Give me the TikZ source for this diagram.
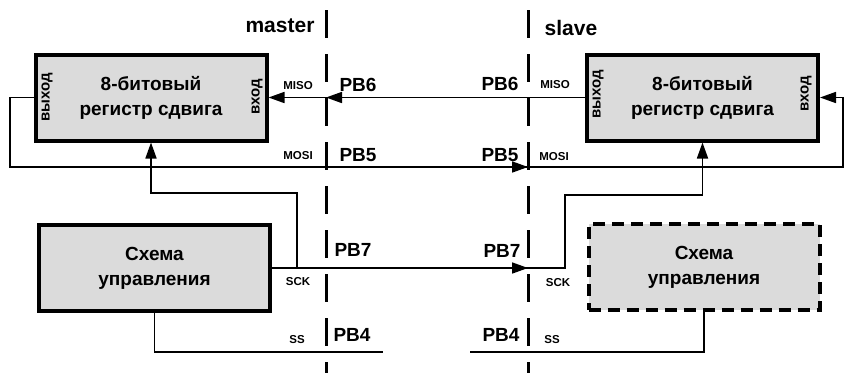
\documentclass[tikz,border=0pt]{standalone}
\usepackage{fontspec}
\setmainfont{Liberation Sans}
\usetikzlibrary{arrows.meta}
\tikzset{
  blk/.style={draw=black, line width=4pt, fill=black!14, minimum width=231pt, minimum height=86pt, inner sep=0pt, align=center, font=\fontsize{19}{25}\selectfont\bfseries},
  blkdash/.style={blk, dash pattern=on 12pt off 7pt},
  wire/.style={line width=1.7pt},
  arr/.style={wire, -{Triangle[length=16pt,width=11pt]}},
  divider/.style={line width=3pt, dash pattern=on 28pt off 16pt},
  pin/.style={font=\fontsize{19}{20}\selectfont\bfseries, inner sep=0pt},
  sig/.style={font=\fontsize{11.5}{12}\selectfont\bfseries, inner sep=0pt},
  side/.style={font=\fontsize{15}{16}\selectfont\bfseries, inner sep=0pt, rotate=90},
  ttl/.style={font=\fontsize{21}{22}\selectfont\bfseries, inner sep=0pt}
}
\begin{document}
\begin{tikzpicture}[x=1pt,y=-1pt]
\useasboundingbox (0,0) rectangle (846,373);
% dividers
\draw[divider] (326,10) -- (326,373);
\draw[divider] (528,10) -- (528,373);
% boxes
\node[blk] (mreg) at (151,97.5) {8-битовый\\регистр сдвига};
\node[blk] (sreg) at (702.5,97.5) {8-битовый\\регистр сдвига};
\node[blk] (mctrl) at (154.5,268) {Схема\\управления};
\node[blkdash] (sctrl) at (704,267) {Схема\\управления};
% side labels
\node[side] (mout) at (47,97) {выход};
\node[side] (min) at (257,97) {вход};
\node[side] (sout) at (598,94) {выход};
\node[side] (sin) at (806,94) {вход};
% titles
\node[ttl] (tmaster) at (280,26) {master};
\node[ttl] (tslave) at (571,28) {slave};
% coordinates
\coordinate (mmiso) at (326,97.5);
\coordinate (mL) at (10,167);
\coordinate (sR) at (843,167);
\coordinate (smosi) at (528,167);
\coordinate (ssck) at (528,268);
\coordinate (sckR) at (565,268);
\coordinate (sckJ) at (297,268);
\coordinate (mup) at (297,193);
\coordinate (sup2) at (565,195);
\coordinate (mss) at (383,352);
\coordinate (sss) at (470,352);
% MISO
\draw[arr] (sreg.west) -- (mreg.east);
\draw[arr] (sreg.west) -- (mmiso);
% MOSI loop
\draw[arr] (mreg.west) -| (mL) -- (smosi);
\draw[arr] (mreg.west) -| (mL) -- (sR) |- (sreg.east);
% SCK
\draw[arr] (mctrl.east) -- (ssck);
\draw[arr] (mctrl.east) -- (sckR) |- (sup2) -| (sreg.south);
\draw[arr] (sckJ) |- (mup) -| (mreg.south);
% SS
\draw[wire] (mctrl.south) |- (mss);
\draw[wire] (sss) -| (sctrl.south);
% pin labels
\node[pin] (pb6m) at (358,85) {PB6};
\node[pin] (pb5m) at (358,155) {PB5};
\node[pin] (pb7m) at (353,250) {PB7};
\node[pin] (pb4m) at (352,335) {PB4};
\node[pin] (pb6s) at (500,84) {PB6};
\node[pin] (pb5s) at (500,155) {PB5};
\node[pin] (pb7s) at (502,251) {PB7};
\node[pin] (pb4s) at (501,335) {PB4};
% signal labels
\node[sig] (misom) at (298,86) {MISO};
\node[sig] (mosim) at (298,156) {MOSI};
\node[sig] (sckm) at (298,282) {SCK};
\node[sig] (ssm) at (297,340) {SS};
\node[sig] (misos) at (555,85) {MISO};
\node[sig] (mosis) at (554,157) {MOSI};
\node[sig] (scks) at (558,283) {SCK};
\node[sig] (sss2) at (552,340) {SS};
\end{tikzpicture}
\end{document}
